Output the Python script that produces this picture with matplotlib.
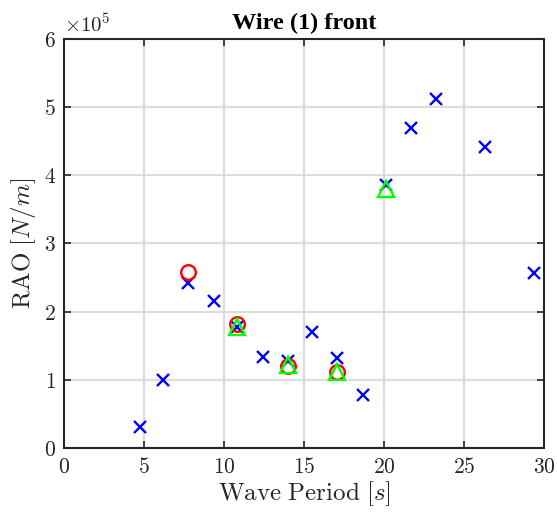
import numpy as np
import matplotlib.pyplot as plt
from matplotlib.ticker import FuncFormatter

plt.rcParams['mathtext.fontset'] = 'cm'

# RAO of wire (1), front load case
period_meas = [4.73, 6.15, 7.75, 9.38, 10.81, 12.40, 14.00, 15.46, 17.03, 18.65,
               20.10, 21.67, 23.27, 26.34, 29.40]
rao_meas = [0.316, 1.00, 2.415, 2.157, 1.77, 1.34, 1.28, 1.71, 1.32, 0.78,
            3.855, 4.69, 5.12, 4.41, 2.56]  # x 1e5 N/m

period_circ = [7.75, 10.81, 14.00, 17.03]
rao_circ = [2.585, 1.82, 1.21, 1.11]

period_tri = [10.81, 14.00, 17.03, 20.10]
rao_tri = [1.77, 1.215, 1.11, 3.79]

fig = plt.figure(figsize=(5.57, 5.19), dpi=100)
ax = fig.add_axes([0.1155, 0.1362, 0.8612, 0.7896])

ax.plot(period_meas, np.array(rao_meas) * 1e5, 'x', color='blue', ms=9, mew=1.7)
ax.plot(period_circ, np.array(rao_circ) * 1e5, 'o', color='red', mfc='none', ms=10.5, mew=1.7)
ax.plot(period_tri, np.array(rao_tri) * 1e5, '^', color='#00ff00', mfc='none', ms=11.5, mew=1.7)

ax.set_xlim(0, 30)
ax.set_ylim(0, 6e5)
ax.set_xticks(np.arange(0, 31, 5))
ax.set_yticks(np.arange(0, 6.01e5, 1e5))
ax.xaxis.set_major_formatter(FuncFormatter(lambda v, p: f'${v:g}$'))
ax.yaxis.set_major_formatter(FuncFormatter(lambda v, p: f'${v / 1e5:g}$'))
ax.tick_params(direction='in', length=5, width=1.2, top=True, right=True,
               labelsize=15.5, color='#262626', labelcolor='#262626', pad=6)
for s in ax.spines.values():
    s.set_linewidth(1.5)
    s.set_color('#262626')
ax.grid(True, color='#dcdcdc', linewidth=1.5)
ax.set_axisbelow(True)

ax.text(0.0, 1.005, r'$\times10^5$', transform=ax.transAxes, fontsize=15,
        color='#262626', va='bottom', ha='left')
ax.set_title('Wire (1) front', fontfamily='Liberation Serif', fontweight='bold',
             fontsize=17.5, pad=7)
ax.set_xlabel(r'$\mathrm{Wave\ Period}\ [s]$', fontsize=18, color='#262626', labelpad=2)
ax.set_ylabel(r'$\mathrm{RAO}\ [N/m]$', fontsize=18, color='#262626', labelpad=4)

fig.savefig('out.png', dpi=100)
